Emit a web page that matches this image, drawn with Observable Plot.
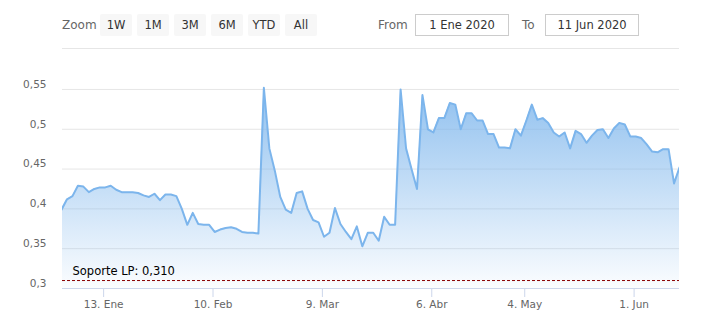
<!DOCTYPE html>
<html>
<head>
<meta charset="utf-8">
<script src="https://cdn.jsdelivr.net/npm/d3@7"></script>
<script src="https://cdn.jsdelivr.net/npm/@observablehq/plot@0.6"></script>
<style>
  html, body { margin: 0; padding: 0; background: #fff; }
  #wrap { position: relative; width: 705px; height: 325px; font-family: "DejaVu Sans", sans-serif; }
  .lbl { position: absolute; top: 14px; height: 22px; line-height: 22px; font-size: 12px; color: #666; }
  .btn { position: absolute; top: 14px; width: 32px; height: 22px; line-height: 22px; background: #f7f7f7; color: #333; font-size: 11.5px; text-align: center; border-radius: 2px; }
  .box { position: absolute; top: 14px; width: 94px; height: 22px; line-height: 20px; box-sizing: border-box; border: 1px solid #cccccc; color: #333; font-size: 11.5px; text-align: center; }
  .sep { position: absolute; left: 62px; top: 48px; width: 617px; height: 1px; background: #e6e6e6; }
  #chart { position: absolute; left: 0; top: 50px; }
</style>
</head>
<body>
<div id="wrap">
  <div class="lbl" style="left:62px">Zoom</div>
  <div id="buttons"></div>
  <div class="lbl" style="left:378px">From</div>
  <div class="box" style="left:415px" id="fromBox"></div>
  <div class="lbl" style="left:522px">To</div>
  <div class="box" style="left:545px" id="toBox"></div>
  <div class="sep"></div>
  <div id="chart"></div>
</div>
<script>
// ---- data ----
const rangeButtons = ["1W", "1M", "3M", "6M", "YTD", "All"];
const rangeFrom = "1 Ene 2020";
const rangeTo = "11 Jun 2020";

// closing price of the session before the visible range (31 Dic 2019, clipped at left edge)
const prevClose = 0.399;
// closing prices, one per trading session, 2 Ene 2020 .. 11 Jun 2020
const closes = [
  0.412, 0.416, 0.429, 0.428, 0.421, 0.425, 0.427, 0.427, 0.429, 0.424,
  0.421, 0.421, 0.421, 0.420, 0.417, 0.415, 0.419, 0.411, 0.418, 0.418,
  0.416, 0.400, 0.380, 0.395, 0.381, 0.380, 0.380, 0.371, 0.374, 0.376,
  0.377, 0.375, 0.371, 0.370, 0.370, 0.369, 0.552, 0.476, 0.448, 0.415,
  0.399, 0.395, 0.420, 0.422, 0.400, 0.386, 0.383, 0.365, 0.370, 0.401,
  0.381, 0.371, 0.362, 0.378, 0.353, 0.370, 0.370, 0.360, 0.390, 0.380,
  0.380, 0.550, 0.476, 0.450, 0.425, 0.543, 0.500, 0.496, 0.514, 0.514,
  0.533, 0.531, 0.500, 0.520, 0.520, 0.511, 0.511, 0.494, 0.494, 0.477,
  0.477, 0.476, 0.500, 0.492, 0.511, 0.531, 0.512, 0.514, 0.508, 0.496,
  0.491, 0.496, 0.476, 0.498, 0.494, 0.483, 0.492, 0.499, 0.500, 0.489,
  0.501, 0.508, 0.506, 0.491, 0.491, 0.489, 0.481, 0.472, 0.471, 0.475,
  0.475, 0.432, 0.452
];
// x-axis tick labels and the session index they fall on
const tickLabels = ["13. Ene", "10. Feb", "9. Mar", "6. Abr", "4. May", "1. Jun"];
const tickSessions = [7, 27, 47, 67, 84, 104];
// y-axis ticks
const yTicks = [0.3, 0.35, 0.4, 0.45, 0.5, 0.55];
// support level
const supportLevel = 0.310;
const supportLabel = "Soporte LP";

// ---- header ----
const btnLeft = 100, btnStep = 37;
const bc = document.getElementById("buttons");
rangeButtons.forEach((b, i) => {
  const d = document.createElement("div");
  d.className = "btn";
  d.style.left = (btnLeft + i * btnStep) + "px";
  d.textContent = b;
  bc.appendChild(d);
});
document.getElementById("fromBox").textContent = rangeFrom;
document.getElementById("toBox").textContent = rangeTo;

// ---- chart ----
const series = [{i: -1, v: prevClose}, ...closes.map((v, i) => ({i, v}))];
const comma = d => String(d).replace(".", ",");
const tickShift = -0.3; // ticks sit at local midnight, a bit before the session close
const tickPos = tickSessions.map(s => s + tickShift);
const labelOf = new Map(tickPos.map((p, k) => [p, tickLabels[k]]));

const yMin = 0.3, yMax = 0.56;
const chart = Plot.plot({
  width: 705,
  height: 275,
  marginLeft: 62,
  marginRight: 26,
  marginTop: 31,
  marginBottom: 37,
  style: {fontFamily: "DejaVu Sans", fontSize: "10.5px", background: "white", overflow: "visible"},
  x: {domain: [-0.82, closes.length - 1], axis: null},
  y: {domain: [yMin, yMax], axis: null},
  marks: [
    Plot.ruleY(yTicks.slice(1), {stroke: "#e6e6e6", strokeWidth: 1}),
    Plot.areaY(series, {x: "i", y1: yMin, y2: "v", fill: "url(#areaGrad)", clip: true, curve: "linear"}),
    Plot.lineY(series, {x: "i", y: "v", stroke: "#7cb5ec", strokeWidth: 2, clip: true, strokeLinejoin: "round"}),
    Plot.ruleY([yMin], {stroke: "#ccd6eb", strokeWidth: 1}),
    Plot.ruleY([supportLevel], {stroke: "#8b0000", strokeWidth: 1, strokeDasharray: "3,2"}),
    Plot.text([supportLevel], {y: d => d, frameAnchor: "left", dx: 10, dy: -9, textAnchor: "start",
      text: d => `${supportLabel}: ${d.toFixed(3).replace(".", ",")}`, fill: "#000", fontSize: 11.5}),
    Plot.axisY(yTicks, {anchor: "left", label: null, tickSize: 0, tickPadding: 16, dy: -5, tickFormat: comma,
      color: "#666666", fontSize: 10.5}),
    Plot.axisX(tickPos, {anchor: "bottom", label: null, tickSize: 9, tickPadding: 3, tickFormat: d => labelOf.get(d),
      color: "#666666", stroke: "#ccd6eb", fontSize: 10.5})
  ]
});

// gradient for the area fill
d3.select(chart).insert("defs", ":first-child").html(
  `<linearGradient id="areaGrad" x1="0" y1="0" x2="0" y2="1">
     <stop offset="0" stop-color="#7cb5ec" stop-opacity="0.85"/>
     <stop offset="1" stop-color="#7cb5ec" stop-opacity="0.03"/>
   </linearGradient>`);
d3.select(chart).selectAll('g[aria-label="x-axis tick"] path, g[aria-label="x-axis tick"] line').attr("stroke", "#ccd6eb");
d3.select(chart).selectAll('g[aria-label="x-axis tick label"], g[aria-label="y-axis tick label"]').attr("fill", "#666666");

document.getElementById("chart").appendChild(chart);
</script>
</body>
</html>
